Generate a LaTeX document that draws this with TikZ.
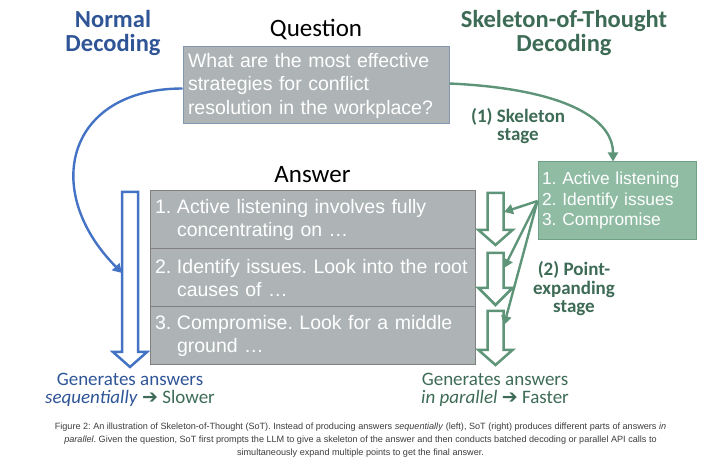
\documentclass[tikz,border=0pt]{standalone}
\usepackage{fontspec}
\setmainfont{Carlito}
\newfontfamily\arialfont{Liberation Sans}
\newfontfamily\symbolfont{DejaVu Sans}
\usepackage{xcolor}
\usepackage{tikz}
\usetikzlibrary{positioning, arrows.meta}
\frenchspacing
\definecolor{normalblue}{RGB}{47, 85, 151}
\definecolor{linkblue}{RGB}{68, 114, 196}
\definecolor{sotgreen}{RGB}{61, 107, 86}
\definecolor{linkgreen}{RGB}{94, 148, 120}
\definecolor{skelfill}{RGB}{143, 188, 163}
\definecolor{skeldraw}{RGB}{110, 160, 134}
\definecolor{boxgray}{RGB}{174, 180, 181}
\definecolor{qdraw}{RGB}{132, 151, 176}
\definecolor{adraw}{RGB}{128, 128, 128}
\definecolor{capgray}{RGB}{60, 60, 60}

% hollow block arrow: colour, x centre, top, start of head, tip
\newcommand{\hollowarrow}[5]{%
	\draw[#1, line width=2.5pt, fill=white, line join=miter]
	(#2-8,#3) -- (#2+8,#3) -- (#2+8,#4) -- (#2+17,#4) -- (#2,#5)
	-- (#2-17,#4) -- (#2-8,#4) -- cycle;}

\begin{document}
\begin{tikzpicture}[
			x=1pt, y=-1pt,
			node distance=0pt,
			title/.style={
				font=\fontsize{24.5}{23.5}\selectfont\bfseries,
				align=center
			},
			heading/.style={
				font=\fontsize{25}{25}\selectfont
			},
			qbox/.style={
				rectangle,
				draw=qdraw,
				line width=1pt,
				fill=boxgray,
				text=white,
				text width=256pt,
				inner xsep=5pt,
				minimum height=77pt,
				align=left,
				font=\arialfont\fontsize{19.5}{23.5}\selectfont
			},
			abox/.style={
				rectangle,
				draw=adraw,
				line width=1pt,
				fill=boxgray,
				text=white,
				text width=315pt,
				inner xsep=5pt,
				minimum height=58pt,
				outer sep=0pt,
				align=left,
				font=\arialfont\fontsize{19.5}{23.5}\selectfont
			},
			sbox/.style={
				rectangle,
				draw=skeldraw,
				line width=1pt,
				fill=skelfill,
				text=white,
				text width=150pt,
				inner xsep=4pt,
				minimum height=78pt,
				align=left,
				font=\arialfont\fontsize{17.4}{20.5}\selectfont
			},
			stage/.style={
				font=\fontsize{19}{18.5}\selectfont\bfseries,
				text=sotgreen,
				align=center
			},
			gen/.style={
				font=\fontsize{19}{18.5}\selectfont,
				align=center
			},
			link/.style={
				line width=2.4pt,
				-{Triangle[length=9pt, width=10pt]}
			}
			]
			
			\useasboundingbox (0,0) rectangle (721,473);
			
			\node[title, text=normalblue] (nd) at (113,33) {Normal\\Decoding};
			\node[title, text=sotgreen] (sd) at (564,33) {Skeleton-of-Thought\\Decoding};
			
			\node[heading] (qt) at (316,30) {Question};
			\node[qbox] (q) at (316,85.5)
			{What are the most effective\\strategies for conflict\\resolution in the workplace?};
			
			\node[heading] (at) at (312.5,175) {Answer};
			\node[abox] (a1) at (312.5,220)
			{\makebox[22pt][l]{1.}Active listening involves fully\\\hspace*{22pt}concentrating on …};
			\node[abox, below=of a1] (a2)
			{\makebox[22pt][l]{2.}Identify issues. Look into the root\\\hspace*{22pt}causes of …};
			\node[abox, below=of a2] (a3)
			{\makebox[22pt][l]{3.}Compromise. Look for a middle\\\hspace*{22pt}ground …};
			
			\node[sbox] (sk) at (617,201)
			{1. Active listening\\2. Identify issues\\3. Compromise};
			
			% sequential and parallel block arrows
			\hollowarrow{linkblue}{130}{192}{352}{367}
			\hollowarrow{linkgreen}{495.5}{193}{230}{245}
			\hollowarrow{linkgreen}{495.5}{253}{288}{305}
			\hollowarrow{linkgreen}{495.5}{311}{350}{365}
			
			\coordinate (bt) at (122,273);
			\coordinate (g1) at (504,212);
			\coordinate (g2) at (504,268);
			\coordinate (g3) at (504,325);
			
			\draw[link, linkblue] ([yshift=-3pt]q.west)
			.. controls +(-115,0) and +(-82,-83) .. (bt);
			\draw[link, linkgreen] ([yshift=2pt]q.east)
			.. controls +(110,5) and +(0,-45) .. ([xshift=-4pt]sk.north);
			
			\draw[link, linkgreen] (sk.west) -- (g1);
			\draw[link, linkgreen] (sk.west) -- (g2);
			\draw[link, linkgreen] (sk.west) -- (g3);
			
			\node[stage] (s1) at (518,126) {(1) Skeleton\\stage};
			\node[stage] (s2) at (574,289) {(2) Point-\\expanding\\stage};
			
			\node[gen, text=normalblue] (ng) at (130,390)
			{Generates answers\\\textit{sequentially} {\color{sotgreen}\symbolfont ➔} {\color{sotgreen}Slower}};
			\node[gen, text=sotgreen] (pg) at (495,390)
			{Generates answers\\\textit{in parallel} {\symbolfont ➔} Faster};
			
			\node[font=\arialfont\fontsize{9.1}{13}\selectfont, text=capgray, align=center] (cap) at (360.5,440)
			{Figure 2: An illustration of Skeleton-of-Thought (SoT). Instead of producing answers \textit{sequentially} (left), SoT (right) produces different parts of answers \textit{in}\\
				\textit{parallel}. Given the question, SoT first prompts the LLM to give a skeleton of the answer and then conducts batched decoding or parallel API calls to\\
				simultaneously expand multiple points to get the final answer.};
			
		\end{tikzpicture}
\end{document}
